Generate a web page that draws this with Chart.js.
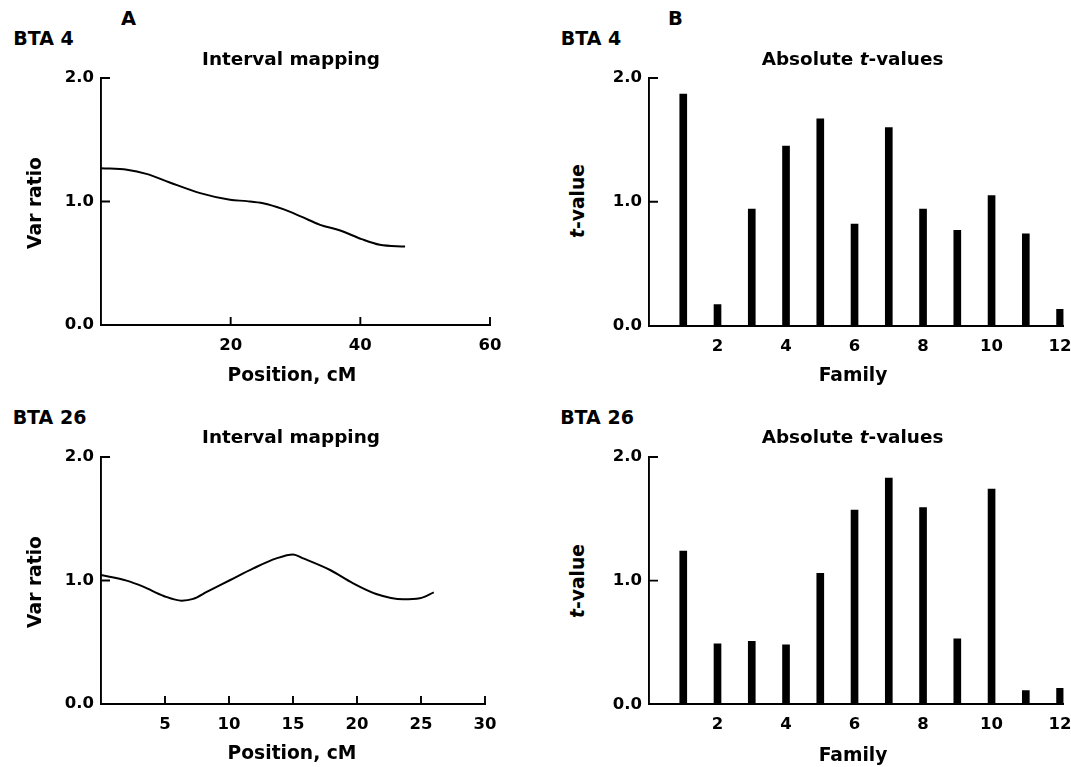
<!DOCTYPE html>
<html>
<head>
<meta charset="utf-8">
<script src="https://cdn.jsdelivr.net/npm/chart.js@4/dist/chart.umd.min.js"></script>
<style>
  html, body { margin: 0; padding: 0; background: #fff; }
  body { width: 1071px; height: 767px; position: relative; overflow: hidden; }
  canvas { position: absolute; }
  .lbl {
    position: absolute;
    font-family: 'DejaVu Sans', sans-serif;
    font-weight: bold;
    line-height: 1;
    white-space: nowrap;
    color: #000;
    transform: translate(-50%, -50%);
  }
  .rot { transform: translate(-50%, -50%) rotate(-90deg); }
  .panel { font-size: 19.5px; }
  .chr { font-size: 19px; }
  .ttl { font-size: 18.4px; }
  .ax { font-size: 18.7px; }
</style>
</head>
<body>
<canvas id="chartTL" width="480" height="310" style="left:40px;top:60px"></canvas>
<canvas id="chartTR" width="500" height="310" style="left:590px;top:60px"></canvas>
<canvas id="chartBL" width="480" height="305" style="left:40px;top:440px"></canvas>
<canvas id="chartBR" width="500" height="305" style="left:590px;top:440px"></canvas>

<div class="lbl panel" style="left:128.5px;top:18.5px">A</div>
<div class="lbl panel" style="left:675.5px;top:19px">B</div>
<div class="lbl chr" style="left:43.5px;top:37.5px">BTA 4</div>
<div class="lbl chr" style="left:591px;top:37.5px">BTA 4</div>
<div class="lbl chr" style="left:49.5px;top:417px">BTA 26</div>
<div class="lbl chr" style="left:597px;top:417px">BTA 26</div>

<div class="lbl ttl" style="left:291px;top:59px">Interval mapping</div>
<div class="lbl ttl" style="left:852.5px;top:59px">Absolute <i>t</i>-values</div>
<div class="lbl ttl" style="left:291px;top:436.5px">Interval mapping</div>
<div class="lbl ttl" style="left:852.5px;top:436.5px">Absolute <i>t</i>-values</div>

<div class="lbl ax" style="left:292px;top:374.5px">Position, cM</div>
<div class="lbl ax" style="left:292px;top:752.5px">Position, cM</div>
<div class="lbl ax" style="left:853px;top:374.5px">Family</div>
<div class="lbl ax" style="left:853px;top:754.5px">Family</div>
<div class="lbl ax rot" style="left:35px;top:202.5px">Var ratio</div>
<div class="lbl ax rot" style="left:35px;top:581.5px">Var ratio</div>
<div class="lbl ax rot" style="left:577.5px;top:201px"><i>t</i>-value</div>
<div class="lbl ax rot" style="left:577.5px;top:581px"><i>t</i>-value</div>

<script>
// interval mapping curves (position in cM, variance ratio)
const bta4Pos = [0, 4, 7, 10.6, 15.3, 19.9, 22.5, 25, 28.1, 31, 33.8, 36.9, 40.2, 43, 46.9];
const bta4Ratio = [1.27, 1.257, 1.224, 1.154, 1.068, 1.014, 1.003, 0.986, 0.938, 0.875, 0.811, 0.765, 0.695, 0.649, 0.635];

const bta26Pos = [0, 2, 3.3, 4.9, 6.3, 7.2, 8.3, 10.1, 11.9, 13.7, 15, 15.8, 17.9, 19.7, 21.5, 23.6, 24.9, 26];
const bta26Ratio = [1.044, 0.999, 0.95, 0.875, 0.837, 0.851, 0.91, 1.004, 1.098, 1.179, 1.211, 1.179, 1.085, 0.977, 0.891, 0.848, 0.856, 0.904];

// absolute t-values per family
const families = [1, 2, 3, 4, 5, 6, 7, 8, 9, 10, 11, 12];
const bta4T = [1.87, 0.17, 0.94, 1.45, 1.67, 0.82, 1.6, 0.94, 0.77, 1.05, 0.74, 0.13];
const bta26T = [1.24, 0.49, 0.51, 0.48, 1.06, 1.57, 1.83, 1.59, 0.53, 1.74, 0.11, 0.13];

const yTicks = [0, 1, 2];

const tickFont = { family: 'DejaVu Sans', weight: 'bold', size: 16.5 };

// short tick marks pointing into the plot
const inwardTicks = {
    id: 'inwardTicks',
    afterDraw(chart, args, opts) {
        const { ctx, chartArea } = chart;
        const xs = chart.scales.x;
        const ys = chart.scales.y;
        ctx.save();
        ctx.strokeStyle = '#000';
        ctx.lineWidth = 1.9;
        ctx.beginPath();
        ys.ticks.forEach((t, i) => {
            if (t.value === 0) return;
            const py = ys.getPixelForTick(i);
            ctx.moveTo(chartArea.left, py);
            ctx.lineTo(chartArea.left + 9, py);
        });
        if (opts.x) {
            xs.ticks.forEach((t, i) => {
                if (t.value === 0) return;
                const px = xs.getPixelForTick(i);
                ctx.moveTo(px, chartArea.bottom);
                ctx.lineTo(px, chartArea.bottom - 8);
            });
        }
        ctx.stroke();
        ctx.restore();
    }
};

function zeroLess(value) {
    return value === 0 ? '' : value;
}

function makeScales(xMax, xStep, yWidth, xHeight) {
    return {
        x: {
            type: 'linear',
            min: 0,
            max: xMax,
            offset: false,
            grid: { display: true, drawOnChartArea: false, drawTicks: false, offset: false },
            border: { display: true, color: '#000', width: 1.9 },
            ticks: {
                stepSize: xStep,
                includeBounds: false,
                autoSkip: false,
                maxRotation: 0,
                padding: 11,
                color: '#000',
                font: tickFont,
                callback: zeroLess
            },
            afterFit: s => { s.height = xHeight; }
        },
        y: {
            min: 0,
            max: 2,
            afterBuildTicks: s => { s.ticks = yTicks.map(v => ({ value: v })); },
            grid: { display: true, drawOnChartArea: false, drawTicks: false },
            border: { display: true, color: '#000', width: 1.9 },
            ticks: {
                padding: 7,
                color: '#000',
                font: tickFont,
                callback: v => v.toFixed(1)
            },
            afterFit: s => { s.width = yWidth; }
        }
    };
}

function lineChart(id, pos, ratio, xMax, xStep, pad, yWidth, xHeight) {
    new Chart(document.getElementById(id), {
        type: 'line',
        data: {
            datasets: [{
                data: pos.map((p, i) => ({ x: p, y: ratio[i] })),
                borderColor: '#000',
                borderWidth: 2,
                pointRadius: 0,
                tension: 0.4,
                cubicInterpolationMode: 'monotone',
                fill: false
            }]
        },
        options: {
            responsive: false,
            animation: false,
            devicePixelRatio: 1,
            layout: { padding: pad },
            plugins: { legend: { display: false }, tooltip: { enabled: false }, inwardTicks: { x: true } },
            scales: makeScales(xMax, xStep, yWidth, xHeight)
        },
        plugins: [inwardTicks]
    });
}

function barChart(id, values, pad, yWidth, xHeight) {
    new Chart(document.getElementById(id), {
        type: 'bar',
        data: {
            datasets: [{
                data: families.map((f, i) => ({ x: f, y: values[i] })),
                backgroundColor: '#000',
                borderWidth: 0,
                barThickness: 7
            }]
        },
        options: {
            responsive: false,
            animation: false,
            devicePixelRatio: 1,
            layout: { padding: pad },
            plugins: { legend: { display: false }, tooltip: { enabled: false }, inwardTicks: { x: false } },
            scales: makeScales(12.1, 2, yWidth, xHeight)
        },
        plugins: [inwardTicks]
    });
}

lineChart('chartTL', bta4Pos, bta4Ratio, 60, 20, { left: 0, right: 30, top: 18, bottom: 0 }, 61, 45);
lineChart('chartBL', bta26Pos, bta26Ratio, 30, 5, { left: 0, right: 35, top: 17, bottom: 0 }, 61, 41);
barChart('chartTR', bta4T, { left: 0, right: 26.5, top: 18, bottom: 0 }, 59, 44.5);
barChart('chartBR', bta26T, { left: 0, right: 26.5, top: 17, bottom: 0 }, 59, 40.7);
</script>
</body>
</html>
